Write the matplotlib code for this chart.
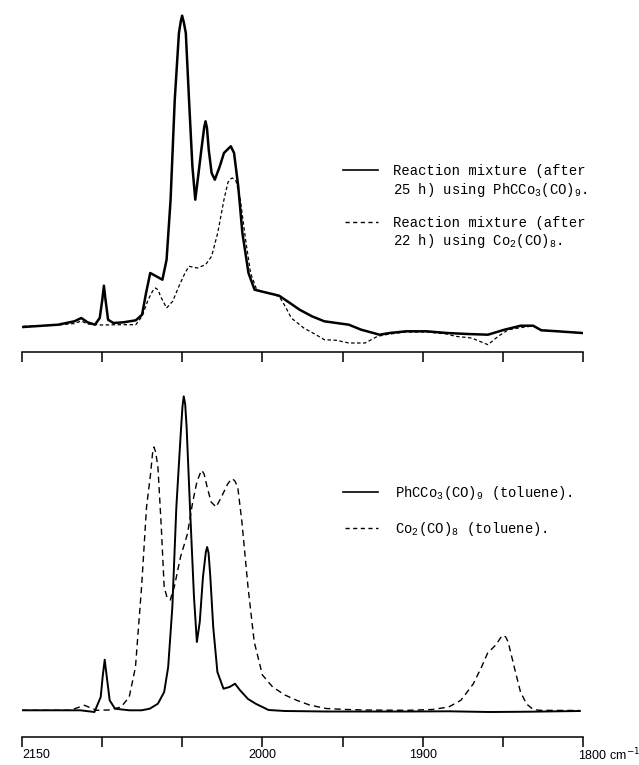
import numpy as np
import matplotlib
matplotlib.use('Agg')
from matplotlib import pyplot as plt
from matplotlib.lines import Line2D
from matplotlib.transforms import blended_transform_factory

plt.rcParams['font.family'] = ['Liberation Mono', 'DejaVu Sans']
plt.rcParams['mathtext.fontset'] = 'custom'
plt.rcParams['mathtext.rm'] = 'Liberation Mono'
plt.rcParams['mathtext.it'] = 'Liberation Mono'
plt.rcParams['lines.scale_dashes'] = False

# ---- top panel: reaction mixtures (wavenumber cm-1, intensity arb.) ----
mix_ph_wn = [2149.2, 2127.5, 2117.3, 2113.0, 2109.1, 2104.5, 2101.5, 2099.9, 2098.9, 2097.9,
             2096.3, 2093.0, 2086.6, 2079.0, 2075.1, 2072.6, 2070.0, 2066.2, 2062.4, 2059.8,
             2057.3, 2054.7, 2052.1, 2050.9, 2050.1, 2049.1, 2047.8, 2045.8, 2043.7, 2041.9,
             2040.1, 2038.1, 2036.3, 2035.5, 2034.6, 2033.5, 2031.7, 2029.7, 2026.6, 2024.0,
             2021.5, 2019.7, 2017.7, 2015.1, 2012.5, 2008.7, 2004.9, 2001.0, 1994.7, 1989.6,
             1984.4, 1976.8, 1969.1, 1961.4, 1953.8, 1946.1, 1938.4, 1930.8, 1927.0, 1920.6,
             1910.4, 1897.6, 1884.8, 1872.0, 1859.3, 1849.0, 1838.8, 1831.1, 1826.0, 1815.8,
             1800.5]
mix_ph_int = [25.0, 27.3, 30.7, 34.0, 29.7, 27.3, 34.0, 52.3, 66.3, 52.3,
              32.3, 29.0, 29.7, 31.7, 37.3, 59.0, 79.0, 75.7, 72.3, 92.3,
              152.3, 252.3, 319.0, 331.0, 336.3, 330.0, 319.0, 252.3, 185.7, 152.3,
              175.7, 202.3, 225.0, 230.7, 224.0, 202.3, 179.0, 172.3, 185.7, 199.0,
              203.0, 205.7, 199.0, 165.7, 119.0, 79.0, 62.3, 60.7, 58.3, 56.3,
              50.7, 42.3, 35.7, 30.7, 29.0, 27.3, 22.3, 19.0, 17.3, 19.0,
              20.7, 20.7, 19.0, 18.0, 17.3, 22.3, 26.3, 26.3, 21.7, 20.7,
              19.0]

mix_co_wn = [2149.2, 2127.5, 2117.3, 2113.0, 2109.1, 2100.0, 2090.0, 2079.0, 2075.1, 2071.3,
             2068.5, 2066.7, 2065.0, 2063.6, 2059.8, 2056.0, 2052.1, 2048.3, 2045.8, 2040.6,
             2035.5, 2031.7, 2027.9, 2024.0, 2021.5, 2019.8, 2018.9, 2017.8, 2016.4, 2013.8,
             2010.5, 2007.4, 2003.6, 1994.7, 1989.6, 1985.8, 1982.0, 1974.2, 1966.6, 1961.4,
             1953.8, 1946.1, 1935.9, 1928.2, 1920.6, 1910.4, 1897.6, 1884.8, 1879.7, 1869.5,
             1859.3, 1852.9, 1846.5, 1836.3, 1831.1, 1826.0, 1815.8, 1800.5]
mix_co_int = [25.7, 27.0, 28.5, 31.0, 28.0, 27.0, 27.3, 27.3, 35.7, 52.3,
              61.0, 64.0, 62.0, 55.7, 44.0, 50.7, 65.7, 79.0, 85.7, 84.0,
              87.3, 95.7, 119.0, 152.3, 169.7, 173.0, 174.0, 173.0, 170.7, 152.3,
              112.3, 79.0, 62.3, 58.0, 55.7, 45.7, 34.0, 24.0, 17.3, 12.3,
              11.7, 9.0, 9.0, 15.7, 18.0, 20.0, 20.0, 18.0, 15.7, 14.0,
              7.3, 15.7, 22.3, 25.0, 26.0, 22.0, 20.7, 19.0]

# ---- bottom panel: pure compounds in toluene ----
ph_wn = [2150.0, 2113.7, 2104.8, 2100.9, 2099.7, 2098.4, 2097.1, 2095.3, 2092.0, 2083.1,
         2075.4, 2070.3, 2065.2, 2061.3, 2058.8, 2056.2, 2053.7, 2051.1, 2049.9, 2049.1,
         2048.2, 2047.3, 2045.2, 2042.7, 2040.9, 2039.1, 2037.1, 2035.3, 2034.5, 2033.6,
         2032.5, 2030.7, 2028.1, 2024.3, 2020.5, 2017.1, 2014.1, 2009.0, 2003.9, 2000.0,
         1996.2, 1986.0, 1960.4, 1934.9, 1909.3, 1883.8, 1858.2, 1832.7, 1802.0]
ph_int = [26.7, 26.7, 25.0, 40.0, 60.0, 77.3, 60.0, 36.7, 28.3, 26.7,
          26.7, 28.3, 33.3, 45.0, 70.0, 130.0, 230.0, 300.0, 330.0, 340.7,
          333.0, 310.0, 230.0, 140.0, 95.0, 115.0, 160.0, 185.0, 190.0, 184.0,
          160.0, 110.0, 65.0, 48.3, 50.0, 53.3, 47.0, 38.0, 33.0, 30.0,
          27.0, 26.0, 25.5, 25.5, 25.5, 25.7, 25.0, 25.3, 26.0]

co_wn = [2150.0, 2120.0, 2111.0, 2103.5, 2095.8, 2088.2, 2083.1, 2079.2, 2075.4, 2072.3,
         2069.8, 2068.6, 2067.7, 2066.6, 2065.2, 2063.1, 2061.3, 2059.6, 2057.5, 2055.0,
         2051.1, 2046.8, 2043.5, 2040.9, 2039.0, 2037.8, 2036.4, 2034.5, 2032.0, 2028.9,
         2025.6, 2021.7, 2019.8, 2018.7, 2017.2, 2015.4, 2012.8, 2009.0, 2005.1, 2000.0,
         1993.6, 1986.0, 1978.3, 1970.6, 1960.4, 1947.6, 1934.9, 1909.3, 1894.0, 1883.8,
         1876.2, 1868.5, 1863.3, 1859.5, 1854.4, 1851.5, 1849.8, 1848.2, 1846.7, 1842.9,
         1839.0, 1835.2, 1831.4, 1827.6, 1802.0]
co_int = [26.7, 26.7, 31.7, 26.7, 27.0, 30.0, 40.0, 70.0, 150.0, 230.0,
          263.0, 283.0, 290.0, 285.0, 270.0, 210.0, 150.0, 140.0, 137.0, 150.0,
          180.0, 203.0, 235.0, 255.0, 263.0, 266.7, 263.0, 250.0, 235.0, 230.0,
          240.0, 253.0, 257.0, 258.3, 256.0, 250.0, 215.0, 150.0, 95.0, 62.0,
          50.0, 42.0, 36.5, 32.0, 28.5, 27.5, 27.0, 26.7, 27.5, 30.0,
          36.7, 53.0, 70.0, 84.0, 92.0, 99.0, 101.7, 100.0, 95.0, 70.0,
          45.0, 33.0, 28.0, 26.7, 26.5]

tick_pos = [2150, 2100, 2050, 2000, 1950, 1900, 1850, 1800]
label_pos = [2150, 2000, 1900, 1800]
label_txt = ['2150', '2000', '1900', '1800 cm$^{-1}$']

W, H = 639, 765
fig = plt.figure(figsize=(W / 100, H / 100), dpi=100)

def fx(x):
    return x / W

def fy(y):
    return 1 - y / H

ax1 = fig.add_axes([fx(22), fy(352), 561 / W, 345 / H])
ax2 = fig.add_axes([fx(22), fy(737), 561 / W, 345 / H])

ax1.plot(mix_ph_wn, mix_ph_int, color='black', lw=1.8, solid_joinstyle='round')
ax1.plot(mix_co_wn, mix_co_int, color='black', lw=0.9, linestyle=(0, (2.5, 1.8)))

ax2.plot(ph_wn, ph_int, color='black', lw=1.4, solid_joinstyle='round')
ax2.plot(co_wn, co_int, color='black', lw=1.0, linestyle=(0, (4.5, 3.0)))

for ax in (ax1, ax2):
    ax.set_xlim(2150, 1800)
    ax.set_ylim(0, 345)
    for s in ('left', 'right', 'top'):
        ax.spines[s].set_visible(False)
    ax.spines['bottom'].set_linewidth(1.1)
    ax.set_yticks([])
    ax.set_xticks(tick_pos)
    ax.set_xticklabels([])
    ax.tick_params(axis='x', direction='out', length=7, width=1.1)
    ax.patch.set_alpha(0)

# axis numbers, placed like the original (first one starts at its tick)
trans = blended_transform_factory(ax2.transData, ax2.transAxes)
for p, t in zip(label_pos, label_txt):
    ha = 'center'
    if p == 2150 or p == 1800:
        ha = 'left'
    xp = p + 3 if p == 1800 else p
    ax2.text(xp, -0.052, t, transform=trans, ha=ha, va='center', fontsize=9,
             family=['Liberation Sans Narrow', 'Liberation Sans'],
             math_fontfamily='dejavusans')

# legends drawn by hand, as in the original figure
def legend_line(x0, x1, y, **kw):
    fig.add_artist(Line2D([fx(x0), fx(x1)], [fy(y), fy(y)], color='black', **kw))

legend_line(343, 378, 170, lw=1.2)
fig.text(fx(393), fy(175), 'Reaction mixture (after', fontsize=10, va='baseline')
fig.text(fx(393), fy(194), '25 h) using PhCCo$_3$(CO)$_9$.', fontsize=10, va='baseline')
legend_line(345, 378, 222, lw=1.0, linestyle=(0, (3.0, 2.5)))
fig.text(fx(393), fy(227), 'Reaction mixture (after', fontsize=10, va='baseline')
fig.text(fx(393), fy(245), '22 h) using Co$_2$(CO)$_8$.', fontsize=10, va='baseline')

legend_line(343, 378, 492, lw=1.2)
fig.text(fx(395), fy(497), 'PhCCo$_3$(CO)$_9$ (toluene).', fontsize=10, va='baseline')
legend_line(345, 378, 528, lw=1.0, linestyle=(0, (3.0, 2.5)))
fig.text(fx(395), fy(533), 'Co$_2$(CO)$_8$ (toluene).', fontsize=10, va='baseline')

fig.savefig('out.png', dpi=100)
